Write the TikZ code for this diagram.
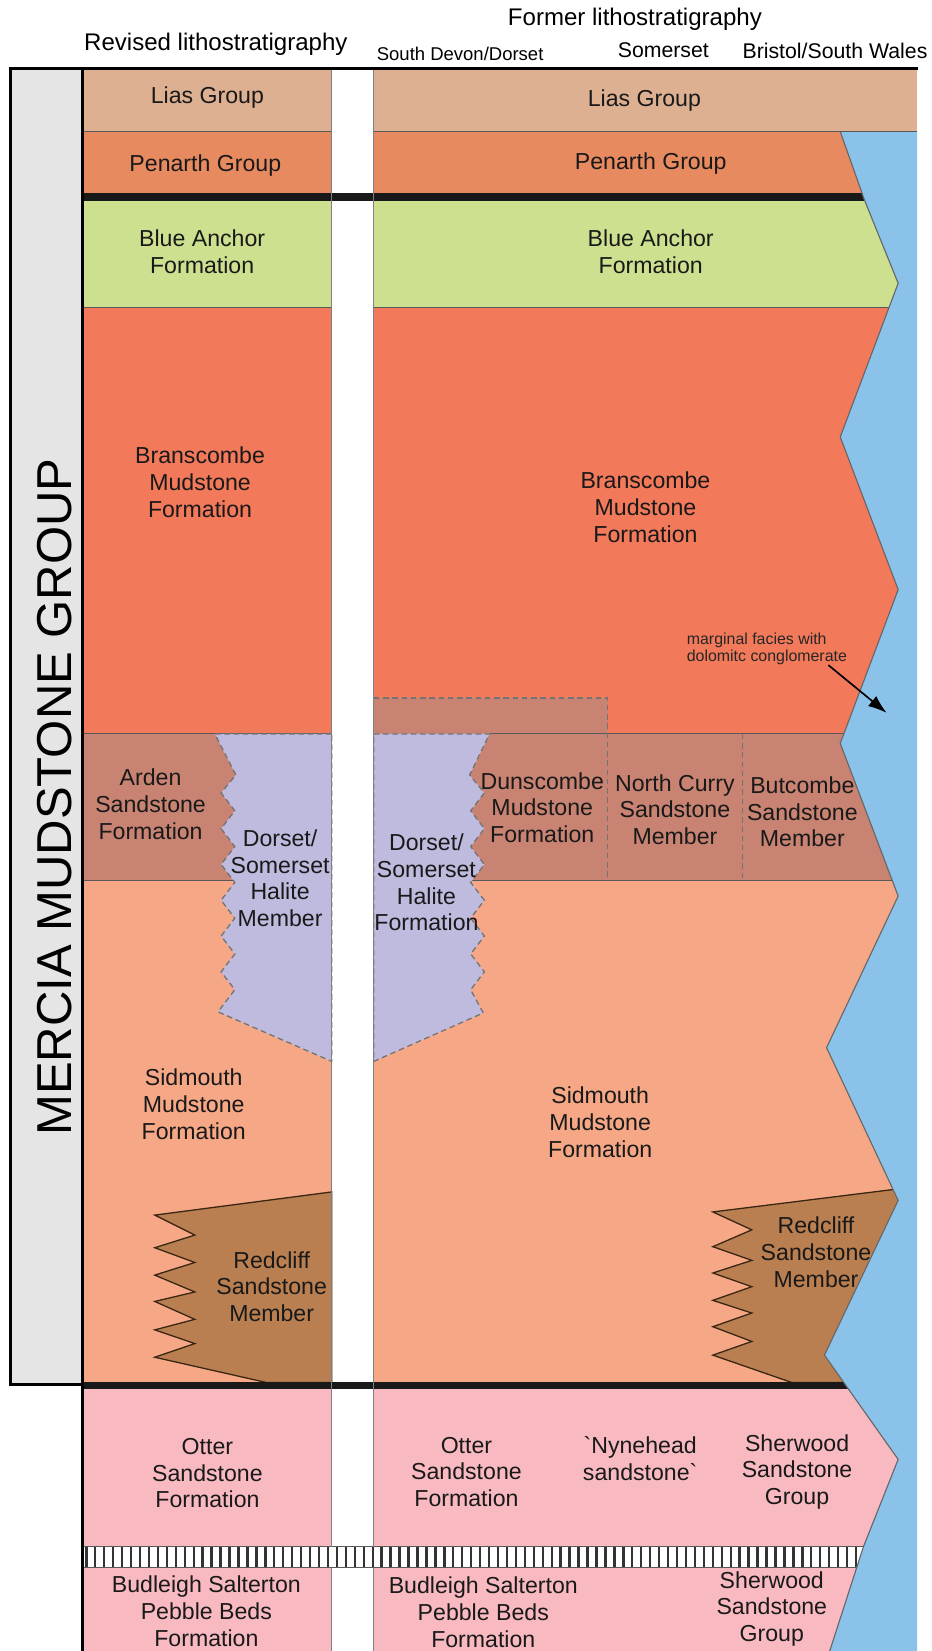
\documentclass[tikz,border=0pt]{standalone}
\usepackage{fontspec}
\setmainfont{Liberation Sans}
\usetikzlibrary{arrows.meta}
\definecolor{lias}{RGB}{222,176,146}
\definecolor{penarth}{RGB}{232,138,96}
\definecolor{banchor}{RGB}{205,224,143}
\definecolor{bransc}{RGB}{242,121,90}
\definecolor{arden}{RGB}{200,131,114}
\definecolor{halite}{RGB}{190,187,222}
\definecolor{sidm}{RGB}{246,168,134}
\definecolor{redcl}{RGB}{186,127,80}
\definecolor{otter}{RGB}{248,186,192}
\definecolor{sea}{RGB}{138,194,234}
\definecolor{boxgray}{RGB}{229,229,229}
\tikzset{
    TX/.style ={align=center, inner sep=0pt, text=black!90, font=\fontsize{12.5}{14.5}\selectfont},
    HD/.style ={inner sep=0pt, font=\fontsize{13}{15}\selectfont},
    HS/.style ={inner sep=0pt, font=\fontsize{11.5}{13}\selectfont},
    HT/.style ={inner sep=0pt, font=\fontsize{10}{12}\selectfont},
    NT/.style ={align=left, inner sep=0pt, text=black!85, font=\fontsize{8.6}{9.4}\selectfont},
    BL/.style ={draw=black!65, line width=0.6pt},
    DL/.style ={draw=black!55, line width=0.7pt, dash pattern=on 3pt off 2pt},
    GL/.style ={draw=black!50, line width=0.6pt},
    TL/.style ={draw=black!90, line width=4pt},
    HA/.style ={draw=black!80, line width=1.3pt},
    RL/.style ={draw=black!70!brown, line width=0.7pt},
    AR/.style ={-{Latex[length=10pt,width=7pt]}, line width=0.9pt}}

\begin{document}
\begin{tikzpicture}[x=0.02cm, y=-0.02cm]
        \useasboundingbox (0,0) rectangle (885,1568);
        \fill[white] (0,0) rectangle (885,1568);
        % former column
        \fill[lias] (355,65) rectangle (871,125);
        \fill[penarth] (355,125) rectangle (871,187);
        \fill[banchor] (355,187) rectangle (871,292);
        \fill[bransc] (355,292) rectangle (871,697);
        \fill[arden] (355,663) rectangle (577,697);
        \fill[arden] (355,697) rectangle (871,836);
        \fill[sidm] (355,836) rectangle (871,1316);
        \fill[otter] (355,1316) rectangle (871,1568);
        % revised column
        \fill[lias] (78,65) rectangle (315,125);
        \fill[penarth] (78,125) rectangle (315,187);
        \fill[banchor] (78,187) rectangle (315,292);
        \fill[bransc] (78,292) rectangle (315,697);
        \fill[arden] (78,697) rectangle (315,836);
        \fill[sidm] (78,836) rectangle (315,1316);
        \fill[otter] (78,1316) rectangle (315,1568);
        % band lines
        \draw[BL] (78,292) -- (315,292) (355,292) -- (871,292);
        \draw[BL] (78,697) -- (315,697) (465,697) -- (871,697);
        \draw[BL] (78,836) -- (315,836) (355,836) -- (871,836);
        \draw[DL] (355,663) -- (577,663) -- (577,836);
        \draw[DL] (705,697) -- (705,836);
        % halite
        \filldraw[fill=halite, DL] (315,697) -- (204,697) -- (224,736) -- (210,753) -- (223,770) -- (210,787)
            -- (223,804) -- (210,821) -- (223,838) -- (210,855) -- (223,872) -- (210,889) -- (223,906)
            -- (210,923) -- (223,940) -- (207,961) -- (315,1008) -- cycle;
        \filldraw[fill=halite, DL] (355,697) -- (465,697) -- (446,736) -- (460,753) -- (447,770) -- (460,787)
            -- (447,804) -- (460,821) -- (447,838) -- (460,855) -- (447,872) -- (460,889) -- (447,906)
            -- (460,923) -- (447,940) -- (459,962) -- (355,1008) -- cycle;
        % redcliff
        \filldraw[fill=redcl, RL] (315,1132) -- (147,1154) -- (185,1173) -- (147,1185) -- (185,1199) -- (147,1211)
            -- (185,1227) -- (147,1236) -- (185,1253) -- (147,1263) -- (185,1276) -- (147,1289)
            -- (253,1313) -- (315,1313) -- cycle;
        \filldraw[fill=redcl, RL] (862,1128) -- (677,1151) -- (714,1168) -- (677,1184) -- (714,1197) -- (677,1209)
            -- (714,1222) -- (677,1235) -- (714,1247) -- (677,1260) -- (714,1274) -- (677,1287)
            -- (752,1313) -- (862,1313) -- cycle;
        % hatched band
        \fill[white] (78,1469) rectangle (871,1489);
        \foreach \x in {82,90.5,...,835} \draw[HA] (\x,1469) -- (\x,1489);
        \draw[BL] (78,1469) -- (871,1469) (78,1489) -- (871,1489);
        \draw[TL] (78,187) -- (830,187);
        \draw[TL] (78,1316) -- (815,1316);
        % sea
        \fill[sea] (798,125) -- (821,190) -- (853,269) -- (798,415) -- (853,560) -- (798,706) -- (853,851)
            -- (785,995) -- (853,1140) -- (783,1287) -- (853,1386) -- (820,1469) -- (788,1568)
            -- (871,1568) -- (871,125) -- cycle;
        \draw[GL, draw=black!60] (798,125) -- (821,190) -- (853,269) -- (798,415) -- (853,560) -- (798,706) -- (853,851)
            -- (785,995) -- (853,1140) -- (783,1287) -- (853,1386) -- (820,1469) -- (788,1568);
        \draw[BL] (78,125) -- (315,125) (355,125) -- (871,125);
        % frame
        \draw[GL] (315,65) -- (315,1469) (315,1489) -- (315,1568);
        \draw[GL] (355,65) -- (355,1469) (355,1489) -- (355,1568);
        \filldraw[fill=boxgray, line width=1.7pt] (10,65) rectangle (78,1315);
        \draw[line width=1.7pt] (10,65) -- (872,65);
        \draw[line width=1.7pt] (78,65) -- (78,1568);
        % headings
        \node[HD] (revh) at (205,42) {Revised lithostratigraphy};
        \node[HD] (forh) at (603,18) {Former lithostratigraphy};
        \node[HT] (sdevh) at (437,51) {South Devon/Dorset};
        \node[HS] (somh) at (630,48) {Somerset};
        \node[HS] (brih) at (793,48) {Bristol/South Wales};
        \node[rotate=90, inner sep=0pt, font=\fontsize{26.5}{30}\selectfont] (mercia) at (52,757) {MERCIA MUDSTONE GROUP};
        % revised labels
        \node[TX] (lias1) at (197,93) {Lias Group};
        \node[TX] (pen1) at (195,157) {Penarth Group};
        \node[TX] (blue1) at (192,239) {Blue Anchor\\Formation};
        \node[TX] (bran1) at (190,458) {Branscombe\\Mudstone\\Formation};
        \node[TX] (arden1) at (143,764) {Arden\\Sandstone\\Formation};
        \node[TX] (hal1) at (266,834) {Dorset/\\Somerset\\Halite\\Member};
        \node[TX] (sid1) at (184,1049) {Sidmouth\\Mudstone\\Formation};
        \node[TX] (red1) at (258,1222) {Redcliff\\Sandstone\\Member};
        \node[TX] (otter1) at (197,1399) {Otter\\Sandstone\\Formation};
        \node[TX] (bud1) at (196,1530) {Budleigh Salterton\\Pebble Beds\\Formation};
        % former labels
        \node[TX] (lias2) at (612,95) {Lias Group};
        \node[TX] (pen2) at (618,155) {Penarth Group};
        \node[TX] (blue2) at (618,239) {Blue Anchor\\Formation};
        \node[TX] (bran2) at (613,482) {Branscombe\\Mudstone\\Formation};
        \node[TX] (dun2) at (515,767) {Dunscombe\\Mudstone\\Formation};
        \node[TX] (curry2) at (641,769) {North Curry\\Sandstone\\Member};
        \node[TX] (butc2) at (762,771) {Butcombe\\Sandstone\\Member};
        \node[TX] (hal2) at (405,838) {Dorset/\\Somerset\\Halite\\Formation};
        \node[TX] (sid2) at (570,1066) {Sidmouth\\Mudstone\\Formation};
        \node[TX] (red2) at (775,1189) {Redcliff\\Sandstone\\Member};
        \node[TX] (otter2) at (443,1398) {Otter\\Sandstone\\Formation};
        \node[TX] (nyne2) at (608,1385) {\textasciigrave Nynehead\\sandstone\textasciigrave};
        \node[TX] (sher2) at (757,1398) {Sherwood\\Sandstone\\Group};
        \node[TX] (bud2) at (459,1531) {Budleigh Salterton\\Pebble Beds\\Formation};
        \node[TX] (sher3) at (733,1528) {Sherwood\\Sandstone\\Group};
        \node[NT, anchor=west] (note) at (652,616) {marginal facies with\\dolomitc conglomerate};
        \coordinate (tip) at (842,677);
        \draw[AR] ([xshift=-0.36cm]note.south east) -- (tip);
    \end{tikzpicture}
\end{document}
